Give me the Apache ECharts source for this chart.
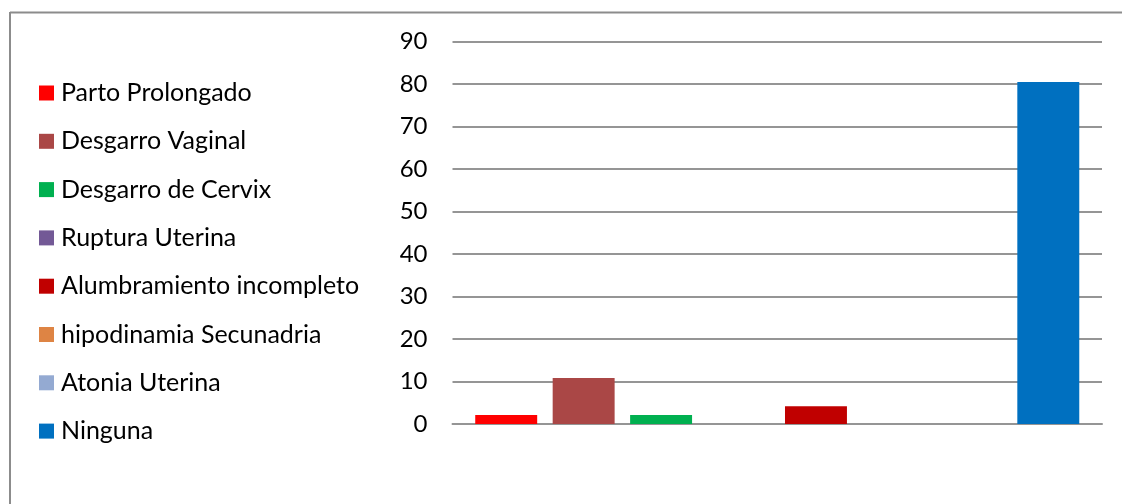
<!DOCTYPE html>
<html>
<head>
<meta charset="utf-8">
<script src="https://cdn.jsdelivr.net/npm/echarts@6/dist/echarts.min.js"></script>
<style>
  html, body { margin: 0; padding: 0; background: #ffffff; }
  #chart { width: 1122px; height: 504px; }
</style>
</head>
<body>
<div id="chart"></div>
<script>
// Complicaciones del parto (%)
const categories = [
  'Parto Prolongado',
  'Desgarro Vaginal',
  'Desgarro de Cervix',
  'Ruptura Uterina',
  'Alumbramiento incompleto',
  'hipodinamia Secunadria',
  'Atonia Uterina',
  'Ninguna'
];
const values = [2.1, 10.8, 2.1, 0, 4.2, 0, 0, 80.5];
const colors = ['#ff0000', '#aa4746', '#00b050', '#735996', '#c00000', '#de8444', '#94aad2', '#0070c0'];
const yTicks = [0, 10, 20, 30, 40, 50, 60, 70, 80, 90];

const FONT = 'Lato, "Open Sans", sans-serif';
const gridColor = '#959595';

const chart = echarts.init(document.getElementById('chart'), null, { renderer: 'canvas' });

const series = categories.map((name, i) => ({
  name: name,
  type: 'bar',
  data: [values[i]],
  itemStyle: { color: colors[i] },
  barGap: '25%',
  barCategoryGap: '7%',
  animation: false
}));

chart.setOption({
  backgroundColor: '#ffffff',
  animation: false,
  graphic: [
    // chart frame (left and top edges)
    { type: 'line', shape: { x1: 10, y1: 12.5, x2: 1122, y2: 12.5 }, style: { stroke: '#8c8c8c', lineWidth: 2 } },
    { type: 'line', shape: { x1: 10, y1: 12, x2: 10, y2: 504 }, style: { stroke: '#8c8c8c', lineWidth: 2 } }
  ],
  legend: {
    orient: 'vertical',
    left: 39,
    top: 80.5,
    padding: 0,
    itemWidth: 15,
    itemHeight: 15,
    itemGap: 23.3,
    icon: 'rect',
    selectedMode: false,
    data: categories,
    textStyle: {
      fontFamily: FONT,
      fontSize: 25,
      lineHeight: 24,
      color: '#000000',
      padding: [0, 0, 0, 2]
    }
  },
  grid: {
    left: 452.5,
    right: 20,
    top: 41.7,
    bottom: 80,
    containLabel: false
  },
  xAxis: {
    type: 'category',
    data: [''],
    axisTick: { show: false },
    axisLabel: { show: false },
    axisLine: { show: true, lineStyle: { color: gridColor, width: 2 } }
  },
  yAxis: {
    type: 'value',
    min: yTicks[0],
    max: yTicks[yTicks.length - 1],
    interval: yTicks[1] - yTicks[0],
    axisLine: { show: false },
    axisTick: { show: false },
    axisLabel: {
      fontFamily: FONT,
      fontSize: 24,
      color: '#000000',
      margin: 25
    },
    splitLine: { show: true, lineStyle: { color: gridColor, width: 2 } }
  },
  series: series
});
</script>
</body>
</html>
